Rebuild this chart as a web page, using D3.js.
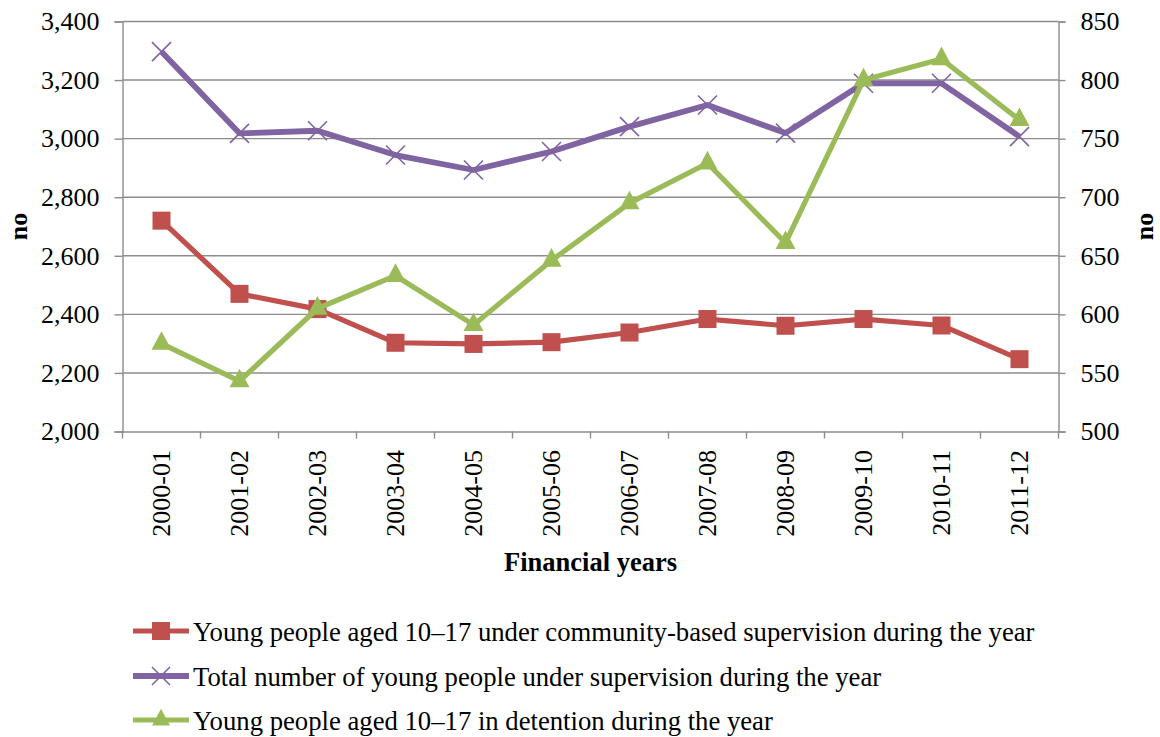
<!DOCTYPE html>
<html>
<head>
<meta charset="utf-8">
<script src="https://cdn.jsdelivr.net/npm/d3@7"></script>
<style>
  html, body { margin: 0; padding: 0; background: #fff; }
  svg { display: block; font-family: "Liberation Serif", "Times New Roman", serif; }
  svg text { font-family: "Liberation Serif", "Times New Roman", serif; }
</style>
</head>
<body>
<svg id="chart" width="1160" height="737"></svg>
<script>
// Financial years on the category axis
const years = ["2000-01","2001-02","2002-03","2003-04","2004-05","2005-06",
               "2006-07","2007-08","2008-09","2009-10","2010-11","2011-12"];

// Left axis series
const community = [2720, 2470, 2418, 2303, 2299, 2305, 2338, 2384, 2361, 2384, 2362, 2247];
const total     = [3297, 3018, 3027, 2944, 2893, 2956, 3041, 3115, 3019, 3189, 3189, 3007];
// Right axis series
const detention = [575, 543, 605, 633, 591, 646, 695, 729, 661, 800, 818, 766];

const leftTicks  = [2000, 2200, 2400, 2600, 2800, 3000, 3200, 3400];
const rightTicks = [500, 550, 600, 650, 700, 750, 800, 850];

const legendLabels = [
  "Young people aged 10\u201317 under community-based supervision during the year",
  "Total number of young people under supervision during the year",
  "Young people aged 10\u201317 in detention during the year"
];

const RED = "#C0504D", PURPLE = "#8064A2", GREEN = "#9BBB59", GRID = "#8c8c8c";
const FONT = "Liberation Serif, Times New Roman, serif";

const svg = d3.select("#chart");
const plot = { left: 122.5, right: 1058.5, top: 21.5, bottom: 431.5 };

const x = d3.scaleBand().domain(years).range([plot.left, plot.right]).padding(0);
const cx = d => x(d) + x.bandwidth() / 2;
const yL = d3.scaleLinear().domain([2000, 3400]).range([plot.bottom, plot.top]);
const yR = d3.scaleLinear().domain([500, 850]).range([plot.bottom, plot.top]);

// Horizontal gridlines
svg.append("g").selectAll("line").data(leftTicks.slice(1)).join("line")
  .attr("x1", plot.left).attr("x2", plot.right)
  .attr("y1", d => yL(d)).attr("y2", d => yL(d))
  .attr("stroke", GRID).attr("stroke-width", 1.4);

// Left axis
const gL = svg.append("g").attr("transform", `translate(${plot.left},0)`)
  .call(d3.axisLeft(yL).tickValues(leftTicks).tickSize(8).tickPadding(15)
        .tickFormat(d3.format(",")));
// Right axis
const gR = svg.append("g").attr("transform", `translate(${plot.right},0)`)
  .call(d3.axisRight(yR).tickValues(rightTicks).tickSize(7).tickPadding(15));
// Bottom axis: ticks on category boundaries
const gB = svg.append("g").attr("transform", `translate(0,${plot.bottom})`)
  .call(d3.axisBottom(x).tickSize(0).tickFormat(""));
gB.selectAll(".tick").remove();
gB.append("g").selectAll("line")
  .data(years.map(d => x(d)).concat([plot.right])).join("line")
  .attr("x1", d => d).attr("x2", d => d).attr("y1", 0).attr("y2", 7)
  .attr("stroke", GRID).attr("stroke-width", 1.4);

[gL, gR, gB].forEach(g => {
  g.attr("font-family", FONT).attr("font-size", 26);
  g.select(".domain").attr("stroke", GRID).attr("stroke-width", 1.4);
  g.selectAll(".tick line").attr("stroke", GRID).attr("stroke-width", 1.4);
  g.selectAll("text").attr("font-size", 26).attr("fill", "#000")
    .attr("font-family", FONT);
});

// Rotated category labels
svg.append("g").selectAll("text").data(years).join("text")
  .attr("transform", d => `translate(${cx(d)},450) rotate(-90)`)
  .attr("text-anchor", "end").attr("dy", "0.33em")
  .attr("font-family", FONT).attr("font-size", 26).text(d => d);

// Axis titles
svg.append("text").attr("x", (plot.left + plot.right) / 2).attr("y", 571)
  .attr("text-anchor", "middle").attr("font-size", 26.5).attr("font-weight", "bold")
  .attr("font-family", FONT).text("Financial years");
svg.append("text").attr("transform", `translate(27,${(plot.top + plot.bottom) / 2}) rotate(-90)`)
  .attr("text-anchor", "middle").attr("font-family", FONT)
  .attr("font-size", 26).attr("font-weight", "bold").text("no");
svg.append("text").attr("transform", `translate(1153,${(plot.top + plot.bottom) / 2}) rotate(-90)`)
  .attr("text-anchor", "middle").attr("font-family", FONT)
  .attr("font-size", 26).attr("font-weight", "bold").text("no");

// Marker drawing helpers
function square(g, px, py, s, color) {
  g.append("rect").attr("x", px - s / 2).attr("y", py - s / 2)
    .attr("width", s).attr("height", s).attr("fill", color);
}
function cross(g, px, py, s, color) {
  g.append("path")
    .attr("d", `M${px - s/2},${py - s/2}L${px + s/2},${py + s/2}M${px - s/2},${py + s/2}L${px + s/2},${py - s/2}`)
    .attr("stroke", color).attr("stroke-width", 1.6).attr("fill", "none");
}
function triangle(g, px, py, s, color) {
  const h = s * 0.93;
  g.append("path")
    .attr("d", `M${px},${py - h * 2/3}L${px + s/2},${py + h/3}L${px - s/2},${py + h/3}Z`)
    .attr("fill", color);
}

const series = [
  { values: community, y: yL, color: RED,    width: 5.2, marker: square,   size: 18 },
  { values: total,     y: yL, color: PURPLE, width: 5.8, marker: cross,    size: 19 },
  { values: detention, y: yR, color: GREEN,  width: 5.2, marker: triangle, size: 20 }
];

series.forEach(s => {
  const line = d3.line().x((d, i) => cx(years[i])).y(d => s.y(d));
  const g = svg.append("g");
  g.append("path").datum(s.values).attr("d", line)
    .attr("fill", "none").attr("stroke", s.color).attr("stroke-width", s.width)
    .attr("stroke-linejoin", "round");
  s.values.forEach((v, i) => s.marker(g, cx(years[i]), s.y(v), s.size, s.color));
});

// Legend
const legendY = [631, 676, 720];
series.forEach((s, i) => {
  const g = svg.append("g");
  g.append("line").attr("x1", 133).attr("x2", 189)
    .attr("y1", legendY[i]).attr("y2", legendY[i])
    .attr("stroke", s.color).attr("stroke-width", s.width);
  s.marker(g, 161, legendY[i], 18, s.color);
  g.append("text").attr("x", 193).attr("y", legendY[i]).attr("dy", "0.36em")
    .attr("font-family", FONT).attr("font-size", 26.7).text(legendLabels[i]);
});
</script>
</body>
</html>
